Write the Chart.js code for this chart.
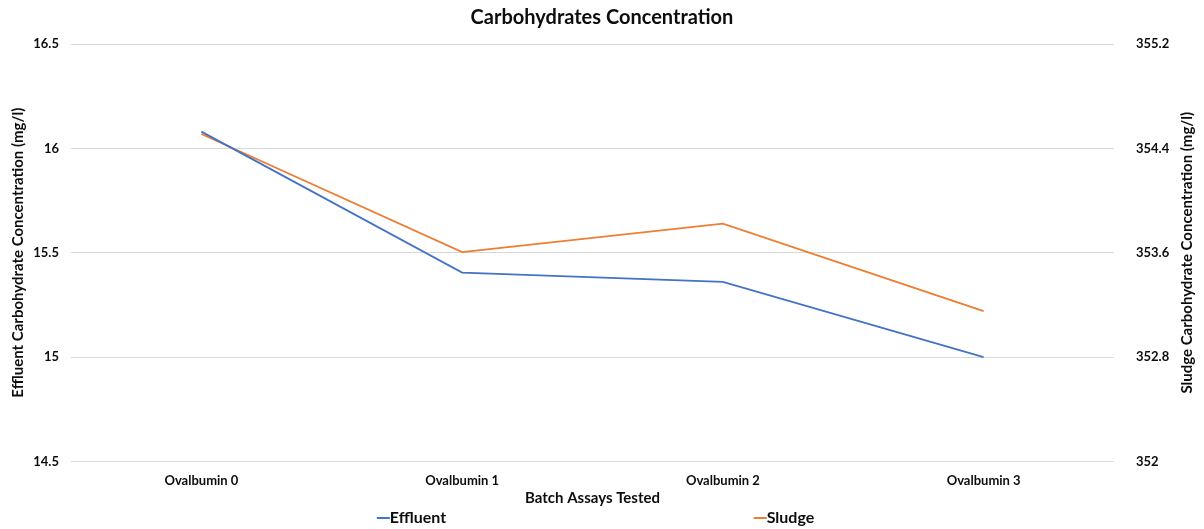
<!DOCTYPE html>
<html lang="en">
<head>
  <meta charset="UTF-8" />
  <title>Carbohydrates Concentration</title>
  <script src="https://cdn.jsdelivr.net/npm/chart.js"></script>
  <style>
    html, body {
      margin: 0;
      padding: 0;
      background: #fff;
    }
    .wrap {
      width: 1204px;
      height: 529px;
    }
  </style>
</head>
<body>
  <div class="wrap">
    <canvas id="carbChart"></canvas>
  </div>

  <script>
    // Batch assays on the x axis
    const categories = ['Ovalbumin 0', 'Ovalbumin 1', 'Ovalbumin 2', 'Ovalbumin 3'];

    // Concentrations (mg/l)
    const effluent = [16.08, 15.405, 15.36, 15.0];
    const sludge = [354.51, 353.605, 353.823, 353.152];

    // Axis ranges
    const leftTicks = { min: 14.5, max: 16.5, step: 0.5 };
    const rightTicks = { min: 352, max: 355.2, step: 0.8 };

    const FONT = 'Lato, "Open Sans", sans-serif';
    const TEXT = '#0d0d0d';
    const rightTitle = 'Sludge Carbohydrate Concentration (mg/l)';

    // Excel style number labels: 16 not 16.0
    const trim = v => String(Number(Number(v).toFixed(2)));

    // Legend at the bottom, items spread apart like the Excel one,
    // plus the right axis title which reads bottom to top
    const extras = {
      id: 'extras',
      afterDraw(chart) {
        const c = chart.ctx;
        const area = chart.chartArea;
        c.save();
        c.font = 'bold 15px ' + FONT;
        c.fillStyle = TEXT;
        c.textAlign = 'center';
        c.textBaseline = 'middle';
        c.translate(chart.width - 17, (area.top + area.bottom) / 2);
        c.rotate(-Math.PI / 2);
        c.fillText(rightTitle, 0, 0);
        c.restore();

        const y = chart.height - 11;
        c.save();
        c.font = 'bold 16px ' + FONT;
        c.textBaseline = 'middle';
        c.textAlign = 'left';
        chart.data.datasets.forEach((ds, i) => {
          const x = chart.width * (0.313 + i * 0.313);
          c.strokeStyle = ds.borderColor;
          c.lineWidth = 2;
          c.beginPath();
          c.moveTo(x, y);
          c.lineTo(x + 13, y);
          c.stroke();
          c.fillStyle = TEXT;
          c.fillText(ds.label, x + 13, y);
        });
        c.restore();
      }
    };

    const ctx = document.getElementById('carbChart').getContext('2d');
    new Chart(ctx, {
      type: 'line',
      data: {
        labels: categories,
        datasets: [
          {
            label: 'Effluent',
            data: effluent,
            yAxisID: 'y',
            borderColor: '#4472C4',
            backgroundColor: '#4472C4',
            borderWidth: 1.8,
            pointRadius: 0,
            tension: 0
          },
          {
            label: 'Sludge',
            data: sludge,
            yAxisID: 'y1',
            borderColor: '#ED7D31',
            backgroundColor: '#ED7D31',
            borderWidth: 1.8,
            pointRadius: 0,
            tension: 0
          }
        ]
      },
      options: {
        responsive: true,
        maintainAspectRatio: false,
        animation: false,
        layout: { padding: { top: 4, bottom: 22, left: 0, right: 0 } },
        plugins: {
          legend: { display: false },
          tooltip: { enabled: false },
          title: {
            display: true,
            text: 'Carbohydrates Concentration',
            color: TEXT,
            font: { family: FONT, size: 20, weight: 'bold' },
            padding: { top: 2, bottom: 14 }
          }
        },
        scales: {
          x: {
            offset: true,
            grid: { display: false, drawTicks: false },
            border: { display: false },
            ticks: { color: TEXT, font: { family: FONT, size: 13, weight: 'bold' }, padding: 12 },
            title: {
              display: true,
              text: 'Batch Assays Tested',
              color: TEXT,
              font: { family: FONT, size: 15, weight: 'bold' },
              padding: { top: -12, bottom: 0 }
            }
          },
          y: {
            position: 'left',
            min: leftTicks.min,
            max: leftTicks.max,
            grid: { color: '#d9d9d9', drawTicks: false },
            border: { display: false },
            ticks: {
              stepSize: leftTicks.step,
              color: TEXT,
              font: { family: FONT, size: 13, weight: 'bold' },
              padding: 12,
              callback: trim
            },
            title: {
              display: true,
              text: 'Effluent Carbohydrate Concentration (mg/l)',
              color: TEXT,
              font: { family: FONT, size: 15, weight: 'bold' },
              padding: { top: 9, bottom: 4 }
            },
            afterFit(scale) { scale.width = 71; }
          },
          y1: {
            position: 'right',
            min: rightTicks.min,
            max: rightTicks.max,
            grid: { display: false, drawTicks: false },
            border: { display: false },
            ticks: {
              stepSize: rightTicks.step,
              color: TEXT,
              font: { family: FONT, size: 13, weight: 'bold' },
              padding: 22,
              callback: trim
            },
            afterFit(scale) { scale.width = 90; }
          }
        }
      },
      plugins: [extras]
    });
  </script>
</body>
</html>
